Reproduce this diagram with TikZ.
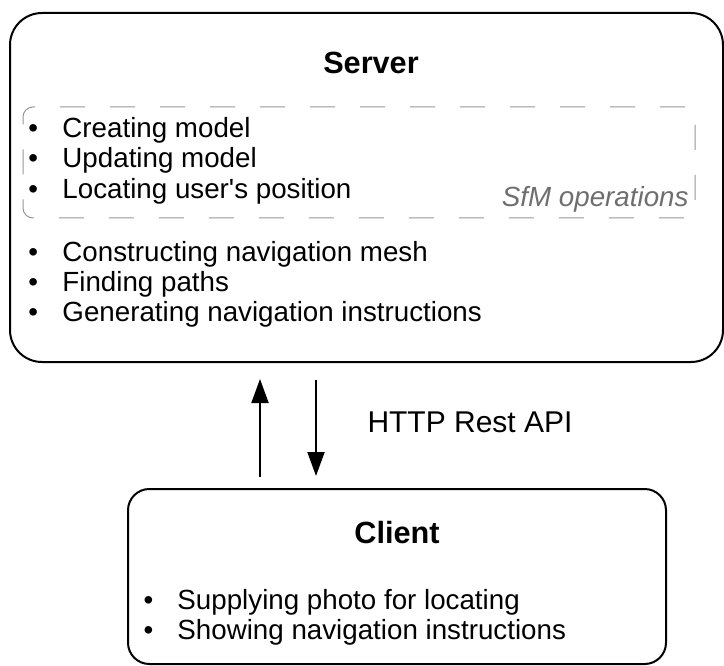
\documentclass[tikz,border=0pt]{standalone}
\usepackage{fontspec}
\setmainfont{Liberation Sans}
\usetikzlibrary{arrows.meta,fit}

\definecolor{sfmgray}{RGB}{150,150,150}
\definecolor{notegray}{RGB}{110,110,110}
\newcommand{\itm}[1]{\makebox[25.5pt][l]{\textbullet}#1}

\tikzset{every picture/.style={line width=0.75pt}}
\tikzset{
  box/.style={draw, line width=1.5pt, inner sep=0pt},
  sfmbox/.style={draw=sfmgray, line width=0.75pt, dash pattern=on 18.75pt off 18.75pt, rounded corners=7.5pt, inner sep=0pt},
  item/.style={anchor=base west, inner sep=0pt, font=\fontsize{20.8}{24}\selectfont},
  title/.style={anchor=base, inner sep=0pt, font=\fontsize{23}{27}\selectfont\bfseries},
  flow/.style={line width=1.5pt, -{Triangle[length=18pt,width=12.75pt]}}
}

\begin{document}
\begin{tikzpicture}[x=0.75pt,y=0.75pt,yscale=-1]
  \useasboundingbox (0,0) rectangle (724,666);

  % boxes
  \node [box, rounded corners=24pt, fit={(10,13) (723,362)}] (server) {};
  \node [sfmbox, fit={(23,107) (695,218)}] (sfm) {};
  \node [box, rounded corners=16pt, fit={(128,489) (666,664)}] (client) {};

  % server
  \node [title] (servertitle) at (371,74) {Server};
  \node [item] (create) at (28,138) {\itm{Creating model}};
  \node [item] (update) at (28,168) {\itm{Updating model}};
  \node [item] (locate) at (28,199) {\itm{Locating user\textquotesingle s position}};
  \node [item, anchor=base east, text=notegray, font=\fontsize{20.8}{24}\selectfont\itshape] (sfmlabel) at (689,207) {SfM operations};
  \node [item] (mesh) at (28,262) {\itm{Constructing navigation mesh}};
  \node [item] (paths) at (28,292) {\itm{Finding paths}};
  \node [item] (instr) at (28,322) {\itm{Generating navigation instructions}};

  % client
  \node [title] (clienttitle) at (397,543) {Client};
  \node [item] (photo) at (143,609) {\itm{Supplying photo for locating}};
  \node [item] (show) at (143,639) {\itm{Showing navigation instructions}};

  % requests
  \coordinate (upx) at (260,0);
  \coordinate (downx) at (316,0);
  \draw [flow, shorten <=8.25pt, shorten >=12pt] (client.north -| upx) -- (server.south -| upx);
  \draw [flow, shorten <=12.75pt, shorten >=9pt] (server.south -| downx) -- (client.north -| downx);
  \node [item, font=\fontsize{22.5}{27}\selectfont] (api) at (367,432) {HTTP Rest API};

\end{tikzpicture}
\end{document}
